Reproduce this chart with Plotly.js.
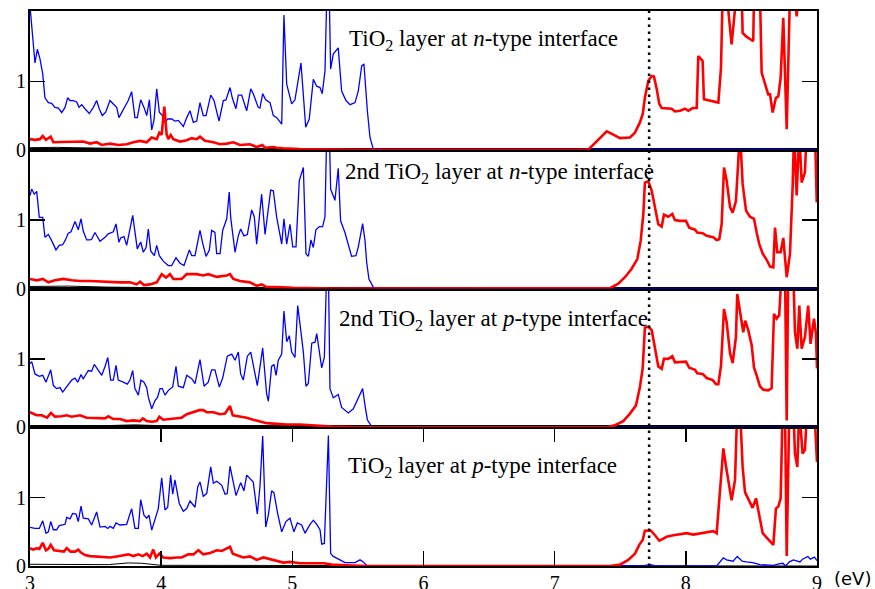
<!DOCTYPE html>
<html>
<head>
<meta charset="utf-8">
<script src="https://cdn.plot.ly/plotly-3.0.1.min.js"></script>
<style>
  html, body { margin: 0; padding: 0; background: #ffffff; }
  #chart { width: 875px; height: 589px; }
</style>
</head>
<body>
<div id="chart"></div>
<script>
// Layer-resolved density of states, energy in eV, pairs of [energy, DOS].
// Panel 1: TiO2 layer at n-type interface
const nLayerBlue = [[3.0,2.1],[3.038,1.27],[3.056,1.47],[3.076,1.33],[3.097,1.11],[3.114,0.76],[3.14,0.69],[3.165,0.68],[3.19,0.62],[3.216,0.61],[3.242,0.545],[3.267,0.62],[3.287,0.76],[3.305,0.72],[3.33,0.72],[3.356,0.70],[3.374,0.62],[3.394,0.66],[3.419,0.60],[3.452,0.53],[3.483,0.62],[3.508,0.72],[3.528,0.60],[3.551,0.50],[3.577,0.55],[3.61,0.72],[3.635,0.67],[3.661,0.62],[3.678,0.47],[3.707,0.57],[3.724,0.64],[3.749,0.72],[3.775,0.85],[3.80,0.47],[3.818,0.47],[3.844,0.73],[3.869,0.62],[3.89,0.50],[3.91,0.73],[3.928,0.29],[3.945,0.43],[3.966,0.89],[3.986,0.55],[4.009,0.50],[4.029,0.40],[4.05,0.45],[4.08,0.45],[4.105,0.42],[4.131,0.43],[4.169,0.34],[4.195,0.47],[4.22,0.57],[4.245,0.40],[4.271,0.42],[4.296,0.69],[4.321,0.50],[4.342,0.50],[4.378,0.80],[4.403,0.72],[4.441,0.42],[4.474,0.72],[4.494,0.73],[4.525,0.91],[4.542,0.76],[4.57,0.60],[4.588,0.80],[4.614,0.80],[4.652,0.57],[4.683,0.89],[4.702,0.82],[4.74,0.62],[4.753,0.61],[4.774,0.82],[4.797,0.73],[4.83,0.69],[4.855,0.50],[4.881,0.47],[4.919,0.375],[4.936,1.97],[4.957,0.96],[4.995,0.67],[5.02,0.73],[5.066,1.27],[5.102,0.33],[5.129,0.45],[5.16,1.03],[5.186,0.93],[5.211,0.91],[5.228,0.82],[5.249,1.15],[5.262,2.2],[5.282,2.2],[5.292,1.18],[5.312,1.40],[5.35,1.49],[5.376,0.86],[5.409,0.72],[5.44,0.66],[5.478,0.69],[5.503,0.86],[5.529,1.23],[5.546,1.25],[5.572,0.57],[5.592,0.18],[5.617,0.01],[5.65,0],[9.0,0]];
const nLayerRed = [[3.0,0.155],[3.038,0.145],[3.076,0.155],[3.097,0.2],[3.122,0.145],[3.158,0.19],[3.178,0.11],[3.216,0.11],[3.28,0.12],[3.356,0.11],[3.406,0.12],[3.457,0.09],[3.508,0.11],[3.547,0.07],[3.61,0.09],[3.673,0.07],[3.737,0.08],[3.788,0.11],[3.839,0.13],[3.89,0.11],[3.928,0.18],[3.966,0.155],[3.986,0.25],[4.004,0.22],[4.024,0.63],[4.042,0.22],[4.055,0.155],[4.073,0.215],[4.093,0.155],[4.144,0.12],[4.195,0.14],[4.233,0.17],[4.271,0.155],[4.296,0.19],[4.334,0.13],[4.398,0.11],[4.449,0.08],[4.5,0.09],[4.55,0.11],[4.601,0.07],[4.677,0.08],[4.728,0.04],[4.771,0.07],[4.792,0.03],[4.855,0.04],[4.881,0.03],[4.931,0.02],[5.058,0.01],[5.3,0.005],[5.5,0],[7.256,0],[7.397,0.27],[7.447,0.22],[7.498,0.17],[7.574,0.18],[7.612,0.25],[7.65,0.4],[7.671,0.52],[7.688,0.76],[7.714,1.01],[7.74,1.08],[7.757,1.07],[7.778,0.89],[7.798,0.67],[7.816,0.61],[7.841,0.61],[7.892,0.6],[7.917,0.56],[7.956,0.57],[7.994,0.6],[8.019,0.57],[8.052,0.61],[8.083,0.61],[8.095,1.37],[8.128,1.3],[8.138,0.74],[8.184,0.72],[8.222,0.71],[8.248,0.69],[8.268,1.2],[8.281,2.3],[8.311,2.3],[8.349,1.54],[8.387,2.3],[8.426,2.3],[8.433,1.71],[8.464,1.65],[8.489,1.62],[8.514,1.59],[8.52,2.3],[8.565,2.3],[8.578,1.13],[8.603,0.96],[8.628,0.81],[8.642,0.81],[8.662,0.545],[8.687,0.76],[8.705,0.78],[8.723,1.06],[8.743,1.93],[8.769,0.30],[8.794,2.3],[8.83,2.3],[8.845,1.95],[8.86,2.3],[9.0,2.4]];
const nLayerBlack = [[3.0,0.03],[3.2,0.035],[3.5,0.025],[3.8,0.015],[4.1,0.01],[4.5,0.005],[5.0,0],[9.0,0]];

// Panel 2: 2nd TiO2 layer at n-type interface
const n2LayerBlue = [[3.0,1.36],[3.013,1.455],[3.033,1.38],[3.051,1.42],[3.071,1.04],[3.097,1.04],[3.114,0.75],[3.14,0.79],[3.165,0.70],[3.198,0.565],[3.223,0.63],[3.249,0.64],[3.267,0.70],[3.292,0.81],[3.313,0.83],[3.343,0.98],[3.368,0.86],[3.389,1.02],[3.406,0.84],[3.432,0.71],[3.457,0.71],[3.47,0.72],[3.495,0.82],[3.534,0.69],[3.572,0.75],[3.597,0.80],[3.635,0.83],[3.656,0.945],[3.678,0.676],[3.691,0.74],[3.717,0.76],[3.737,0.63],[3.783,1.07],[3.818,0.58],[3.844,0.68],[3.864,0.53],[3.885,0.60],[3.902,0.87],[3.92,0.55],[3.948,0.48],[3.966,0.63],[3.986,0.48],[4.016,0.40],[4.054,0.335],[4.08,0.335],[4.113,0.45],[4.144,0.37],[4.174,0.335],[4.215,0.565],[4.233,0.48],[4.258,0.48],[4.296,0.85],[4.317,0.66],[4.342,0.47],[4.367,0.56],[4.385,0.85],[4.41,0.82],[4.423,0.51],[4.449,0.51],[4.469,0.85],[4.5,1.02],[4.519,1.41],[4.53,1.04],[4.563,0.53],[4.588,0.77],[4.606,0.87],[4.631,0.77],[4.657,0.79],[4.69,1.15],[4.71,1.05],[4.728,0.65],[4.766,1.38],[4.792,0.79],[4.835,1.44],[4.855,1.43],[4.881,1.04],[4.919,0.65],[4.936,1.02],[4.957,0.65],[4.982,0.94],[5.003,0.61],[5.028,0.61],[5.053,1.58],[5.084,1.77],[5.104,0.51],[5.122,0.47],[5.142,0.71],[5.16,0.6],[5.18,0.86],[5.206,0.905],[5.231,0.905],[5.249,1.05],[5.262,2.3],[5.282,2.3],[5.292,1.455],[5.325,1.29],[5.35,1.76],[5.368,0.99],[5.401,0.82],[5.427,0.63],[5.452,0.47],[5.485,0.48],[5.503,0.61],[5.536,0.95],[5.554,0.70],[5.567,0.38],[5.584,0.14],[5.617,0.02],[5.65,0],[9.0,0]];
const n2LayerRed = [[3.0,0.14],[3.051,0.12],[3.097,0.14],[3.14,0.09],[3.19,0.12],[3.254,0.14],[3.318,0.12],[3.381,0.11],[3.457,0.11],[3.534,0.10],[3.61,0.10],[3.686,0.09],[3.762,0.09],[3.813,0.06],[3.839,0.10],[3.869,0.05],[3.915,0.06],[3.966,0.09],[4.004,0.21],[4.037,0.16],[4.067,0.21],[4.093,0.14],[4.156,0.14],[4.195,0.21],[4.271,0.21],[4.321,0.19],[4.359,0.21],[4.398,0.19],[4.424,0.17],[4.5,0.19],[4.525,0.21],[4.55,0.14],[4.601,0.11],[4.677,0.09],[4.728,0.04],[4.766,0.06],[4.804,0.02],[4.881,0.02],[5.007,0.01],[5.3,0],[7.04,0],[7.422,0.005],[7.485,0.07],[7.536,0.165],[7.587,0.29],[7.63,0.43],[7.656,0.70],[7.676,1.09],[7.688,1.55],[7.714,1.57],[7.74,1.43],[7.765,1.19],[7.79,0.94],[7.816,0.905],[7.833,1.08],[7.866,1.05],[7.897,1.09],[7.917,1.0],[7.956,0.99],[8.001,0.99],[8.026,0.89],[8.07,0.86],[8.087,0.82],[8.128,0.81],[8.159,0.77],[8.209,0.75],[8.235,0.71],[8.255,0.72],[8.273,0.94],[8.291,1.77],[8.311,1.58],[8.337,1.19],[8.357,1.11],[8.382,1.28],[8.413,2.3],[8.433,1.53],[8.459,1.14],[8.489,1.05],[8.52,1.02],[8.54,0.82],[8.56,0.65],[8.586,0.51],[8.616,0.42],[8.642,0.32],[8.667,0.31],[8.68,0.89],[8.697,0.53],[8.723,0.53],[8.743,0.74],[8.769,0.165],[8.794,0.51],[8.815,1.53],[8.825,2.3],[8.845,1.36],[8.865,2.3],[8.883,1.55],[8.908,1.7],[8.921,2.3],[8.985,2.3],[8.998,1.26]];
const n2LayerBlack = [[3.0,0.03],[3.3,0.035],[3.6,0.02],[3.9,0.015],[4.2,0.005],[4.6,0],[9.0,0]];

// Panel 3: 2nd TiO2 layer at p-type interface
const p2LayerBlue = [[3.0,0.93],[3.013,0.96],[3.038,0.78],[3.071,0.745],[3.097,0.76],[3.122,0.66],[3.158,0.84],[3.178,0.61],[3.203,0.565],[3.229,0.58],[3.249,0.515],[3.28,0.59],[3.318,0.69],[3.343,0.72],[3.364,0.66],[3.389,0.77],[3.406,0.71],[3.445,0.83],[3.47,0.82],[3.49,0.92],[3.513,0.85],[3.547,0.76],[3.572,0.89],[3.593,1.02],[3.615,0.69],[3.635,0.69],[3.656,0.905],[3.673,0.69],[3.711,0.66],[3.742,0.63],[3.762,0.69],[3.783,0.83],[3.8,0.565],[3.826,0.47],[3.846,0.69],[3.869,0.66],[3.89,0.58],[3.902,0.44],[3.928,0.27],[3.953,0.39],[3.973,0.44],[3.991,0.565],[4.009,0.565],[4.029,0.47],[4.055,0.54],[4.088,0.59],[4.113,0.89],[4.131,0.6],[4.169,0.58],[4.195,0.76],[4.233,0.71],[4.258,0.64],[4.296,0.99],[4.327,0.6],[4.359,0.66],[4.385,0.84],[4.41,0.84],[4.443,0.59],[4.469,0.72],[4.504,1.04],[4.538,1.07],[4.563,0.98],[4.588,1.1],[4.606,0.78],[4.626,0.69],[4.657,1.04],[4.683,1.1],[4.733,0.61],[4.774,1.16],[4.804,0.49],[4.817,0.38],[4.842,0.89],[4.86,0.92],[4.876,0.76],[4.893,0.98],[4.919,1.07],[4.936,1.70],[4.957,1.25],[4.977,1.34],[4.995,1.1],[5.02,1.02],[5.041,1.78],[5.064,1.42],[5.084,1.1],[5.104,0.60],[5.122,0.64],[5.148,1.23],[5.173,1.245],[5.186,1.37],[5.224,0.87],[5.244,1.02],[5.262,2.3],[5.275,2.3],[5.287,0.565],[5.312,0.43],[5.35,0.48],[5.376,0.29],[5.427,0.21],[5.465,0.27],[5.495,0.39],[5.536,0.565],[5.554,0.32],[5.572,0.11],[5.605,0.01],[5.65,0],[9.0,0]];
const p2LayerRed = [[3.0,0.22],[3.051,0.175],[3.09,0.175],[3.13,0.14],[3.16,0.21],[3.19,0.155],[3.24,0.16],[3.28,0.175],[3.318,0.155],[3.381,0.175],[3.432,0.14],[3.508,0.14],[3.572,0.13],[3.597,0.16],[3.635,0.12],[3.686,0.12],[3.737,0.09],[3.788,0.10],[3.839,0.09],[3.86,0.13],[3.89,0.09],[3.928,0.08],[3.966,0.09],[3.986,0.155],[4.016,0.11],[4.067,0.12],[4.118,0.13],[4.156,0.14],[4.195,0.19],[4.246,0.22],[4.291,0.25],[4.321,0.25],[4.347,0.22],[4.398,0.22],[4.449,0.19],[4.487,0.20],[4.525,0.31],[4.546,0.175],[4.601,0.155],[4.652,0.14],[4.702,0.11],[4.753,0.08],[4.804,0.06],[4.881,0.05],[4.957,0.04],[5.058,0.04],[5.3,0.01],[5.5,0],[7.397,0],[7.46,0.03],[7.523,0.09],[7.574,0.20],[7.62,0.32],[7.65,0.59],[7.671,0.86],[7.688,1.46],[7.714,1.47],[7.74,1.42],[7.765,1.17],[7.79,0.89],[7.816,0.855],[7.833,1.0],[7.866,1.0],[7.897,1.04],[7.917,0.95],[7.956,0.95],[8.001,0.96],[8.026,0.87],[8.07,0.84],[8.087,0.79],[8.128,0.78],[8.159,0.72],[8.205,0.69],[8.23,0.63],[8.248,0.63],[8.268,0.9],[8.291,1.73],[8.311,1.54],[8.337,1.08],[8.357,0.94],[8.382,1.32],[8.392,1.95],[8.413,1.68],[8.438,1.39],[8.453,1.56],[8.476,1.42],[8.502,1.2],[8.52,0.87],[8.54,0.76],[8.565,0.6],[8.591,0.55],[8.628,0.54],[8.654,0.57],[8.672,1.66],[8.692,1.59],[8.712,1.64],[8.731,2.3],[8.756,2.3],[8.769,0.10],[8.781,2.3],[8.819,2.3],[8.832,1.39],[8.85,1.15],[8.865,1.78],[8.883,1.15],[8.908,1.32],[8.933,1.78],[8.951,1.22],[8.977,1.59],[8.992,1.37],[9.0,0.86]];
const p2LayerBlack = [[3.0,0.01],[3.4,0.015],[3.8,0.035],[4.0,0.02],[4.3,0.005],[4.8,0],[9.0,0]];

// Panel 4: TiO2 layer at p-type interface
const pLayerBlue = [[3.0,0.565],[3.038,0.55],[3.071,0.55],[3.097,0.66],[3.122,0.48],[3.14,0.5],[3.158,0.65],[3.178,0.53],[3.203,0.53],[3.223,0.59],[3.267,0.61],[3.28,0.71],[3.305,0.69],[3.325,0.77],[3.351,0.76],[3.368,0.65],[3.389,0.876],[3.406,0.7],[3.445,0.69],[3.47,0.6],[3.508,0.79],[3.534,0.57],[3.572,0.58],[3.593,0.55],[3.61,0.58],[3.635,0.55],[3.656,0.63],[3.686,0.6],[3.737,0.61],[3.775,0.84],[3.8,0.55],[3.826,0.55],[3.844,0.97],[3.869,0.745],[3.89,0.7],[3.907,0.745],[3.928,0.525],[3.953,0.67],[3.978,0.84],[4.004,1.29],[4.029,0.82],[4.05,0.86],[4.072,1.33],[4.088,1.05],[4.105,1.26],[4.138,0.915],[4.169,0.8],[4.195,0.84],[4.22,0.95],[4.258,0.86],[4.279,1.16],[4.296,1.23],[4.321,1.02],[4.347,1.06],[4.378,1.45],[4.398,1.21],[4.424,1.24],[4.462,1.18],[4.487,1.05],[4.504,1.06],[4.525,1.46],[4.546,1.26],[4.571,1.03],[4.606,1.22],[4.631,1.1],[4.652,1.33],[4.683,1.26],[4.702,1.23],[4.733,0.76],[4.753,1.16],[4.774,1.90],[4.797,0.57],[4.817,0.745],[4.842,1.1],[4.86,1.07],[4.888,0.77],[4.919,0.5],[4.951,0.65],[4.982,0.7],[5.012,0.5],[5.038,0.63],[5.071,0.6],[5.097,0.48],[5.135,0.61],[5.16,0.67],[5.186,0.61],[5.211,0.53],[5.224,0.32],[5.244,0.33],[5.275,1.91],[5.292,0.185],[5.312,0.14],[5.363,0.09],[5.401,0.05],[5.44,0.05],[5.478,0.05],[5.516,0.09],[5.541,0.06],[5.571,0.0],[7.65,0],[7.688,0.01],[7.73,0.02],[7.77,0],[8.235,0],[8.286,0.12],[8.31,0.09],[8.36,0.07],[8.392,0.14],[8.43,0.07],[8.46,0.06],[8.51,0.05],[8.565,0.02],[8.667,0.01],[8.71,0.03],[8.74,0.04],[8.76,0.0],[8.79,0.06],[8.82,0.09],[8.85,0.07],[8.87,0.06],[8.89,0.1],[8.93,0.14],[8.95,0.1],[8.98,0.13],[9.0,0.08]];
const pLayerRed = [[3.0,0.26],[3.025,0.24],[3.051,0.26],[3.071,0.25],[3.097,0.34],[3.122,0.23],[3.14,0.25],[3.158,0.31],[3.183,0.23],[3.223,0.22],[3.259,0.21],[3.28,0.26],[3.31,0.21],[3.343,0.21],[3.368,0.24],[3.386,0.2],[3.419,0.16],[3.457,0.145],[3.508,0.14],[3.559,0.125],[3.61,0.125],[3.661,0.14],[3.711,0.16],[3.75,0.17],[3.788,0.145],[3.826,0.17],[3.859,0.145],[3.89,0.18],[3.915,0.125],[3.94,0.24],[3.96,0.125],[3.986,0.18],[4.016,0.125],[4.067,0.115],[4.118,0.125],[4.156,0.125],[4.207,0.17],[4.246,0.17],[4.284,0.23],[4.322,0.17],[4.373,0.19],[4.424,0.23],[4.462,0.22],[4.5,0.25],[4.525,0.28],[4.546,0.18],[4.576,0.16],[4.626,0.125],[4.677,0.14],[4.728,0.09],[4.779,0.125],[4.83,0.1],[4.881,0.065],[4.932,0.05],[4.982,0.06],[5.058,0.04],[5.24,0.04],[5.3,0.02],[5.41,0.01],[5.57,0],[7.422,0],[7.498,0.02],[7.561,0.09],[7.612,0.18],[7.645,0.31],[7.671,0.38],[7.688,0.515],[7.714,0.52],[7.732,0.52],[7.765,0.45],[7.798,0.37],[7.829,0.40],[7.854,0.43],[7.905,0.45],[7.956,0.46],[8.006,0.48],[8.057,0.46],[8.108,0.48],[8.159,0.49],[8.209,0.51],[8.235,0.48],[8.286,1.72],[8.311,1.40],[8.349,0.96],[8.375,1.26],[8.392,2.3],[8.413,2.3],[8.433,1.45],[8.451,1.08],[8.484,0.96],[8.509,0.85],[8.535,0.99],[8.56,0.75],[8.586,0.48],[8.628,0.39],[8.667,0.31],[8.687,0.84],[8.705,0.87],[8.723,0.99],[8.738,2.3],[8.756,2.3],[8.769,0.145],[8.789,2.3],[8.82,2.3],[8.832,1.645],[8.85,1.45],[8.865,2.3],[8.89,1.645],[8.908,1.7],[8.925,2.3],[8.97,2.3],[8.985,2.1],[9.0,1.52]];
const pLayerBlack = [[3.0,0.025],[3.3,0.02],[3.6,0.02],[3.75,0.045],[3.85,0.04],[4.0,0.01],[4.5,0.01],[5.0,0],[9.0,0]];

const panelTitles = [
  'TiO<sub>2</sub> layer at <i>n</i>-type interface',
  '2nd TiO<sub>2</sub> layer at <i>n</i>-type interface',
  '2nd TiO<sub>2</sub> layer at <i>p</i>-type interface',
  'TiO<sub>2</sub> layer at <i>p</i>-type interface'
];
const xTickValues = [3, 4, 5, 6, 7, 8, 9];
const yTickValues = [0, 1];
const bandEdge = 7.72;

// top to bottom; each panel gets its own axis pair
const panels = [
  { blue: nLayerBlue,  red: nLayerRed,  black: nLayerBlack,  xa: 'x4', ya: 'y4', tx: 5.415, ty: 1.6 },
  { blue: n2LayerBlue, red: n2LayerRed, black: n2LayerBlack, xa: 'x3', ya: 'y3', tx: 5.385, ty: 1.69 },
  { blue: p2LayerBlue, red: p2LayerRed, black: p2LayerBlack, xa: 'x2', ya: 'y2', tx: 5.34,  ty: 1.57 },
  { blue: pLayerBlue,  red: pLayerRed,  black: pLayerBlack,  xa: 'x',  ya: 'y',  tx: 5.41,  ty: 1.45 }
];

const serif = '"Liberation Serif", "Times New Roman", Times, serif';
const traces = [];
const annotations = [];

function lineTrace(pts, p, color, width) {
  return {
    type: 'scatter', mode: 'lines',
    x: pts.map(d => d[0]), y: pts.map(d => d[1]),
    xaxis: p.xa, yaxis: p.ya,
    line: { color: color, width: width },
    hoverinfo: 'skip', showlegend: false
  };
}

panels.forEach((p, i) => {
  traces.push(lineTrace(p.black, p, '#000000', 1));
  traces.push(lineTrace(p.blue, p, '#0000ff', 1.3));
  traces.push(lineTrace(p.red, p, '#ff0000', 2.6));
  annotations.push({
    xref: 'x', yref: p.ya, x: p.tx, y: p.ty,
    xanchor: 'left', yanchor: 'middle', showarrow: false,
    text: panelTitles[i],
    font: { family: serif, size: 23, color: '#000000' }
  });
});

annotations.push({
  xref: 'paper', yref: 'paper', x: 1.019, y: -0.022,
  xanchor: 'left', yanchor: 'middle', showarrow: false,
  text: '(eV)',
  font: { family: '"DejaVu Sans", sans-serif', size: 18, color: '#000000' }
});

const frame = { showline: true, linecolor: '#000000', linewidth: 2, showgrid: false, zeroline: false };

function yAxis(domain, anchor) {
  return Object.assign({}, frame, {
    domain: domain, anchor: anchor, range: [0, 2.03], fixedrange: true,
    tickmode: 'array', tickvals: yTickValues, ticktext: yTickValues.map(String),
    ticks: 'inside', ticklen: 15, tickwidth: 1.5, tickcolor: '#000000', mirror: 'ticks',
    ticklabelstandoff: -2,
    tickfont: { family: serif, size: 20, color: '#000000' }
  });
}

function xHidden(anchor) {
  return Object.assign({}, frame, {
    anchor: anchor, matches: 'x', range: [3, 9], mirror: true,
    ticks: '', showticklabels: false
  });
}

const layout = {
  width: 875, height: 589,
  margin: { l: 30, r: 58, t: 11, b: 23 },
  paper_bgcolor: '#ffffff', plot_bgcolor: '#ffffff',
  showlegend: false,
  font: { family: serif, color: '#000000' },
  xaxis: Object.assign({}, frame, {
    anchor: 'y', range: [3, 9], fixedrange: true,
    tickmode: 'array', tickvals: xTickValues, ticktext: xTickValues.map(String),
    ticks: 'inside', ticklen: 15, tickwidth: 1.5, tickcolor: '#000000', mirror: 'ticks',
    ticklabelstandoff: -2,
    tickfont: { family: serif, size: 20, color: '#000000' }
  }),
  xaxis2: xHidden('y2'),
  xaxis3: xHidden('y3'),
  xaxis4: xHidden('y4'),
  yaxis: yAxis([0, 0.25], 'x'),
  yaxis2: yAxis([0.25, 0.5], 'x2'),
  yaxis3: yAxis([0.5, 0.75], 'x3'),
  yaxis4: yAxis([0.75, 1], 'x4'),
  annotations: annotations,
  shapes: [{
    type: 'line', xref: 'x', yref: 'paper',
    x0: bandEdge, x1: bandEdge, y0: 0, y1: 1,
    line: { color: '#000000', width: 2.5, dash: '2.5px,4.5px' }
  }]
};

Plotly.newPlot('chart', traces, layout, { staticPlot: true, displayModeBar: false });
</script>
</body>
</html>
